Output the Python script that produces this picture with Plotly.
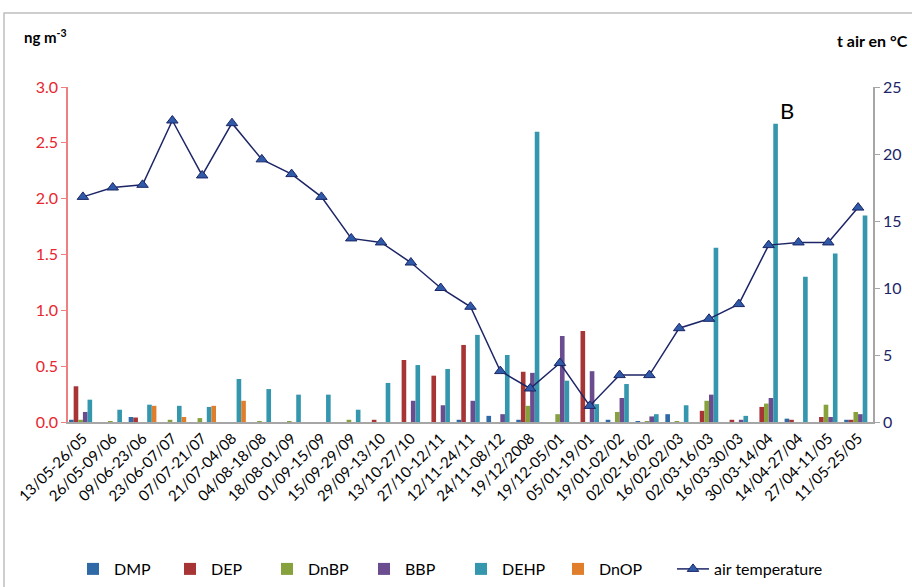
import plotly.graph_objects as go

periods = ["13/05-26/05", "26/05-09/06", "09/06-23/06", "23/06-07/07", "07/07-21/07",
           "21/07-04/08", "04/08-18/08", "18/08-01/09", "01/09-15/09", "15/09-29/09",
           "29/09-13/10", "13/10-27/10", "27/10-12/11", "12/11-24/11", "24/11-08/12",
           "19/12/2008", "19/12-05/01", "05/01-19/01", "19/01-02/02", "02/02-16/02",
           "16/02-02/03", "02/03-16/03", "16/03-30/03", "30/03-14/04", "14/04-27/04",
           "27/04-11/05", "11/05-25/05"]

dmp = [0.02, 0, 0.045, 0, 0, 0, 0, 0, 0, 0, 0, 0, 0, 0.02, 0.055, 0.02, 0, 0, 0.02, 0.005,
       0.07, 0, 0, 0, 0.03, 0, 0.02]
dep = [0.32, 0, 0.04, 0, 0, 0, 0, 0, 0, 0, 0.02, 0.555, 0.415, 0.69, 0, 0.45, 0, 0.815, 0, 0,
       0, 0.1, 0.02, 0.135, 0.02, 0.045, 0.02]
dnbp = [0.02, 0.005, 0, 0.02, 0.035, 0, 0.005, 0.005, 0, 0.02, 0, 0, 0, 0, 0, 0.145, 0.07, 0,
        0.09, 0.005, 0.005, 0.19, 0, 0.165, 0, 0.155, 0.09]
bbp = [0.09, 0, 0, 0, 0, 0, 0, 0, 0, 0, 0, 0.19, 0.15, 0.19, 0.07, 0.44, 0.77, 0.455, 0.215,
       0.05, 0, 0.245, 0.02, 0.215, 0, 0.045, 0.07]
dehp = [0.2, 0.11, 0.155, 0.145, 0.135, 0.385, 0.295, 0.245, 0.245, 0.11, 0.35, 0.51, 0.475,
        0.78, 0.6, 2.6, 0.37, 0.16, 0.34, 0.07, 0.15, 1.56, 0.055, 2.67, 1.3, 1.51, 1.85]
dnop = [0, 0, 0.145, 0.045, 0.145, 0.19, 0, 0, 0, 0, 0, 0, 0, 0, 0, 0, 0, 0, 0, 0,
        0, 0, 0, 0, 0, 0, 0]
air_temp = [16.8, 17.5, 17.7, 22.5, 18.4, 22.3, 19.6, 18.5, 16.8, 13.7, 13.4, 11.9, 10.0, 8.6,
            3.8, 2.5, 4.4, 1.2, 3.5, 3.5, 7.0, 7.7, 8.8, 13.2, 13.4, 13.4, 16.0]

series = [
    ("DMP", dmp, "#2F69A6"),
    ("DEP", dep, "#A83535"),
    ("DnBP", dnbp, "#87A23D"),
    ("BBP", bbp, "#6A4C8F"),
    ("DEHP", dehp, "#3597AE"),
    ("DnOP", dnop, "#E07E2C"),
]

FONT = "Lato, 'Open Sans', sans-serif"

fig = go.Figure()
for name, vals, color in series:
    fig.add_trace(go.Bar(x=periods, y=vals, name=name, marker_color=color,
                         marker_line_width=0, yaxis="y", legend="legend"))

fig.add_trace(go.Scatter(
    x=periods, y=air_temp, name="air temperature", yaxis="y2", legend="legend2",
    mode="lines+markers",
    line=dict(color="#1C2566", width=1.5),
    marker=dict(symbol="triangle-up", size=10, color="#2E5AA8",
                line=dict(color="#1C2566", width=1)),
))

# plot area: x 68..873, y 87..422 (pixels)
FW, FH = 912, 587
L, R, T, B = 68, 39, 87, 165
W, H = FW - L - R, FH - T - B

def px_x(x):
    return (x - L) / W

def px_y(y):
    return (FH - B - y) / H

def cx(x):
    return x / FW

def cy(y):
    return 1 - y / FH

legend_font = dict(size=16, color="#000000")

fig.update_layout(
    width=FW, height=FH,
    margin=dict(l=L, r=R, t=T, b=B, autoexpand=False),
    paper_bgcolor="white", plot_bgcolor="white",
    font=dict(family=FONT, size=15, color="#000000"),
    barmode="group", bargap=0.07, bargroupgap=0,
    showlegend=True,
    legend=dict(orientation="h", xref="container", yref="container",
                x=cx(72), xanchor="left", y=cy(569), yanchor="middle",
                font=legend_font, traceorder="normal", itemwidth=32,
                entrywidth=50, entrywidthmode="pixels"),
    legend2=dict(orientation="h", xref="container", yref="container",
                 x=cx(672), xanchor="left", y=cy(569), yanchor="middle",
                 font=legend_font, itemwidth=32),
    xaxis=dict(type="category", tickangle=-45, showgrid=False, showline=True,
               linecolor="#A6A6A6", linewidth=1.5, ticks="", tickfont=dict(size=15),
               range=[-0.5, len(periods) - 0.5]),
    yaxis=dict(range=[0, 3.0], dtick=0.5, tickformat=".1f", showgrid=False,
               showline=True, linecolor="#F08080", linewidth=1.5,
               ticks="outside", tickcolor="#F08080", ticklen=5,
               tickfont=dict(size=16, color="#E8262F"), zeroline=False),
    yaxis2=dict(range=[0, 25], dtick=5, overlaying="y", side="right", showgrid=False,
                showline=True, linecolor="#A6A6A6", linewidth=1.5,
                ticks="outside", tickcolor="#A6A6A6", ticklen=5,
                tickfont=dict(size=16, color="#1C2566"), zeroline=False),
    annotations=[
        dict(text="<b>ng m<sup>-3</sup></b>", xref="paper", yref="paper",
             x=px_x(22), y=px_y(36), xanchor="left", yanchor="middle",
             showarrow=False, font=dict(size=15, color="#000000")),
        dict(text="<b>t air en °C</b>", xref="paper", yref="paper",
             x=px_x(835), y=px_y(40), xanchor="left", yanchor="middle",
             showarrow=False, font=dict(size=16, color="#000000")),
        dict(text="B", xref="paper", yref="paper",
             x=px_x(787), y=px_y(110), xanchor="center", yanchor="middle",
             showarrow=False, font=dict(size=22, color="#000000")),
    ],
    shapes=[
        dict(type="rect", xref="paper", yref="paper",
             x0=px_x(4), x1=px_x(920), y0=px_y(595), y1=px_y(13),
             line=dict(color="#BFBFBF", width=1.5), fillcolor="rgba(0,0,0,0)", layer="below"),
    ],
)

fig.write_html("out.html")
